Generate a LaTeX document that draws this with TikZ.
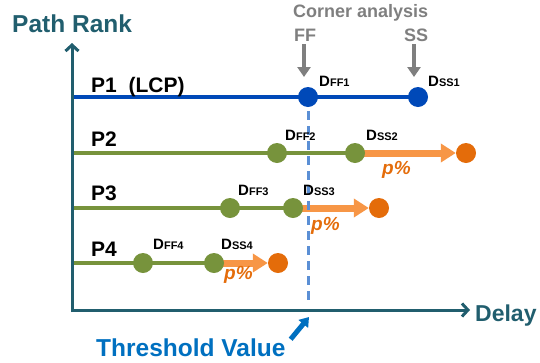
\documentclass[tikz,border=0pt]{standalone}
\usepackage{fontspec}
\setmainfont{Liberation Sans}
\usetikzlibrary{arrows.meta}
\pgfdeclarelayer{background}
\pgfsetlayers{background,main}

\definecolor{axisc}{HTML}{215E6E}
\definecolor{lcpblue}{HTML}{0049B8}
\definecolor{pathgreen}{HTML}{77933C}
\definecolor{shiftorange}{HTML}{F79646}
\definecolor{dotorange}{HTML}{E46C0A}
\definecolor{cornergray}{HTML}{7F7F7F}
\definecolor{threshblue}{HTML}{0070C0}
\definecolor{dashblue}{HTML}{5B8FD5}

% delay label: large D followed by a smaller subscript-like tag
\newcommand\dlab[1]{\bfseries{\fontsize{15pt}{15pt}\selectfont D}{\fontsize{11pt}{11pt}\selectfont #1}}

\begin{document}
\begin{tikzpicture}[x=1pt,y=-1pt,
  axisline/.style={draw=axisc, line width=3pt, -{Straight Barb[length=6pt,width=13pt,line width=3pt]}},
  bigtitle/.style={font=\fontsize{24.5pt}{24.5pt}\selectfont\bfseries, inner sep=0pt, anchor=base west},
  pname/.style={font=\fontsize{21pt}{21pt}\selectfont\bfseries, inner sep=0pt, anchor=base west},
  dname/.style={inner sep=0pt, anchor=base west},
  bdot/.style={circle, fill=lcpblue, minimum size=20pt, inner sep=0pt},
  gdot/.style={circle, fill=pathgreen, minimum size=20pt, inner sep=0pt},
  odot/.style={circle, fill=dotorange, minimum size=20pt, inner sep=0pt},
  lcpline/.style={draw=lcpblue, line width=4pt},
  pathline/.style={draw=pathgreen, line width=3.5pt},
  shiftarrow/.style={draw=shiftorange, line width=7pt, -{Triangle[length=15pt,width=18pt]}},
  pct/.style={font=\fontsize{19pt}{19pt}\selectfont\bfseries\itshape, text=dotorange, inner sep=0pt, anchor=base west},
  cornertext/.style={font=\fontsize{18pt}{18pt}\selectfont\bfseries, text=cornergray, inner sep=0pt},
  cornerarrow/.style={draw=cornergray, line width=3.5pt, -{Triangle[length=10pt,width=13pt]}},
]
\useasboundingbox (0,0) rectangle (540,362);

% axes
\coordinate (yfoot) at (72,312);
\coordinate (ytip) at (72,43);
\coordinate (xfoot) at (72,310);
\coordinate (xtip) at (470,310);
\draw[axisline] (yfoot) -- (ytip);
\draw[axisline] (xfoot) -- (xtip);
\node[bigtitle, text=axisc] (yname) at (12,32) {Path Rank};
\node[bigtitle, text=axisc, font=\fontsize{23pt}{23pt}\selectfont\bfseries] (xname) at (475,321) {Delay};

% corner analysis header
\node[cornertext, anchor=base west] (corner) at (293,17) {Corner analysis};
\node[cornertext, anchor=base] (ff) at (305,41) {FF};
\node[cornertext, anchor=base] (ss) at (416,41) {SS};

% path start points on the rank axis
\coordinate (a1) at (72,97);
\coordinate (a2) at (72,153);
\coordinate (a3) at (72,208);
\coordinate (a4) at (72,263);

% corner delay points
\node[bdot] (f1) at (308,97) {};
\node[bdot] (s1) at (418,97) {};
\node[gdot] (f2) at (277,153) {};
\node[gdot] (s2) at (355,153) {};
\node[odot] (o2) at (466,153) {};
\node[gdot] (f3) at (230,208) {};
\node[gdot] (s3) at (293,208) {};
\node[odot] (o3) at (379,208) {};
\node[gdot] (f4) at (143,263) {};
\node[gdot] (s4) at (214,263) {};
\node[odot] (o4) at (278,263) {};

% path lines and delay shifts
\begin{pgfonlayer}{background}
  \draw[lcpline] (a1) -- (s1.center);
  \draw[pathline] (a2) -- (s2.center);
  \draw[pathline] (a3) -- (s3.center);
  \draw[pathline] (a4) -- (s4.center);
  \draw[shiftarrow] (s2.center) -- (o2.west);
  \draw[shiftarrow] (s3.center) -- (o3.west);
  \draw[shiftarrow] (s4.center) -- (o4.west);
\end{pgfonlayer}

% corner arrows
\coordinate (ffhead) at (304,77);
\coordinate (sshead) at (414,77);
\draw[cornerarrow] (ff.south -| ffhead) ++(0,3) -- (ffhead);
\draw[cornerarrow] (ss.south -| sshead) ++(0,3) -- (sshead);

% threshold
\coordinate (thrtop) at (308,111);
\coordinate (thrbot) at (308,302);
\draw[draw=dashblue, line width=3pt, dash pattern=on 9pt off 6pt] (thrtop) -- (thrbot);
\node[bigtitle, text=threshblue] (thr) at (96,356) {Threshold Value};
\coordinate (thrtip) at (309,317);
\draw[draw=threshblue, line width=5pt, -{Triangle[length=9pt,width=12pt]}] (thr.east) ++(5,-8) -- (thrtip);

% path names
\node[pname] (p1) at (91,92) {P1\ \ (LCP)};
\node[pname] (p2) at (91,146) {P2};
\node[pname] (p3) at (91,200) {P3};
\node[pname] (p4) at (91,256) {P4};

% delay labels
\node[dname] (lf1) at (319,86) {\dlab{FF1}};
\node[dname] (ls1) at (428,86) {\dlab{SS1}};
\node[dname] (lf2) at (285,140) {\dlab{FF2}};
\node[dname] (ls2) at (366,140) {\dlab{SS2}};
\node[dname] (lf3) at (238,195) {\dlab{FF3}};
\node[dname] (ls3) at (303,195) {\dlab{SS3}};
\node[dname] (lf4) at (153,249.5) {\dlab{FF4}};
\node[dname] (ls4) at (221,249.5) {\dlab{SS4}};

% shift percentages
\node[pct] (q2) at (382,174) {p\%};
\node[pct] (q3) at (311,230) {p\%};
\node[pct] (q4) at (224,279) {p\%};
\end{tikzpicture}
\end{document}
